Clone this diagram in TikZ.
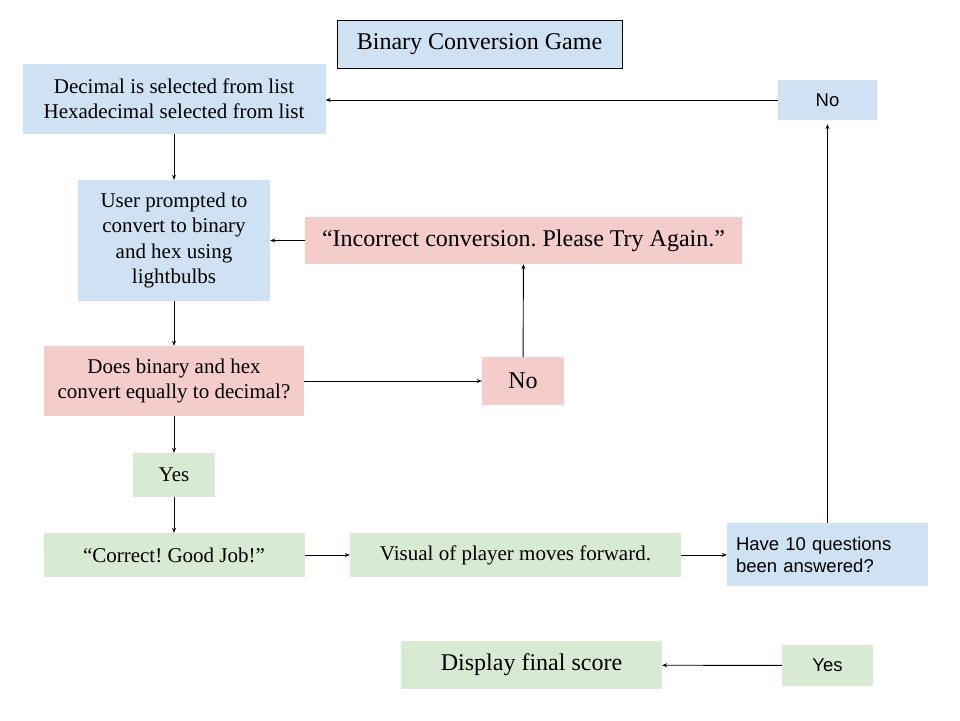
\documentclass[tikz,border=0pt]{standalone}
\usepackage{fontspec}
\setmainfont{Liberation Serif}
\setsansfont{Liberation Sans}
\usetikzlibrary{arrows.meta}
\definecolor{boxblue}{HTML}{CFE2F3}
\definecolor{boxred}{HTML}{F4CCCC}
\definecolor{boxgreen}{HTML}{D9EAD3}
\frenchspacing
\tikzset{
	flow/.style={rectangle, inner sep=0pt, align=center, font=\fontsize{21}{25.3}\selectfont},
	big/.style={font=\fontsize{24}{28}\selectfont},
	sans/.style={font=\sffamily\fontsize{18.5}{22}\selectfont},
	link/.style={line width=0.9pt, -{Stealth[length=5pt,width=4pt]}}
}
\begin{document}
\begin{tikzpicture}[x=1pt,y=-1pt]
	\useasboundingbox (0,0) rectangle (960,720);
	\node[flow, big, fill=boxblue, draw, line width=0.9pt, minimum width=285, minimum height=48] (title) at (479.5,44) {Binary Conversion Game};
	\node[flow, fill=boxblue, minimum width=303, minimum height=70] (select) at (174,99) {Decimal is selected from list\\Hexadecimal selected from list};
	\node[flow, sans, fill=boxblue, minimum width=99, minimum height=40] (notop) at (827.5,100) {No};
	\node[flow, fill=boxblue, minimum width=192, minimum height=121] (prompt) at (174,240.5) {User prompted to\\convert to binary\\and hex using\\lightbulbs};
	\node[flow, big, fill=boxred, minimum width=437, minimum height=47] (wrong) at (523.5,240.5) {``Incorrect conversion. Please Try Again.''};
	\node[flow, fill=boxred, minimum width=260, minimum height=70] (check) at (174,381) {Does binary and hex\\convert equally to decimal?};
	\node[flow, big, fill=boxred, minimum width=82, minimum height=48] (nomid) at (523,381) {No};
	\node[flow, fill=boxgreen, minimum width=82, minimum height=44] (yesmid) at (174,475) {Yes};
	\node[flow, fill=boxgreen, minimum width=261, minimum height=44] (right) at (174,555) {``Correct! Good Job!''};
	\node[flow, fill=boxgreen, minimum width=331, minimum height=44] (move) at (515.5,555) {Visual of player moves forward.};
	\node[flow, sans, fill=boxblue, text width=183, inner xsep=9pt, align=left, minimum height=63] (ten) at (827.5,554.5) {Have 10 questions\\been answered?};
	\node[flow, big, fill=boxgreen, minimum width=261, minimum height=48] (score) at (531.5,665) {Display final score};
	\node[flow, sans, fill=boxgreen, minimum width=91, minimum height=41] (yesend) at (827.5,665.5) {Yes};
	\draw[link] (notop.west) -- (notop.west -| select.east);
	\draw[link] (select) -- (prompt);
	\draw[link] (wrong.west) -- (wrong.west -| prompt.east);
	\draw[link] (prompt) -- (check);
	\draw[link] (check.east) -- (check.east -| nomid.west);
	\draw[link] (nomid) -- (wrong);
	\draw[link] (check) -- (yesmid);
	\draw[link] (yesmid) -- (right);
	\draw[link] (right) -- (move);
	\draw[link] (move.east) -- (move.east -| ten.west);
	\draw[link, shorten >=4pt] (ten) -- (notop);
	\draw[link] (yesend) -- (score);
\end{tikzpicture}
\end{document}
